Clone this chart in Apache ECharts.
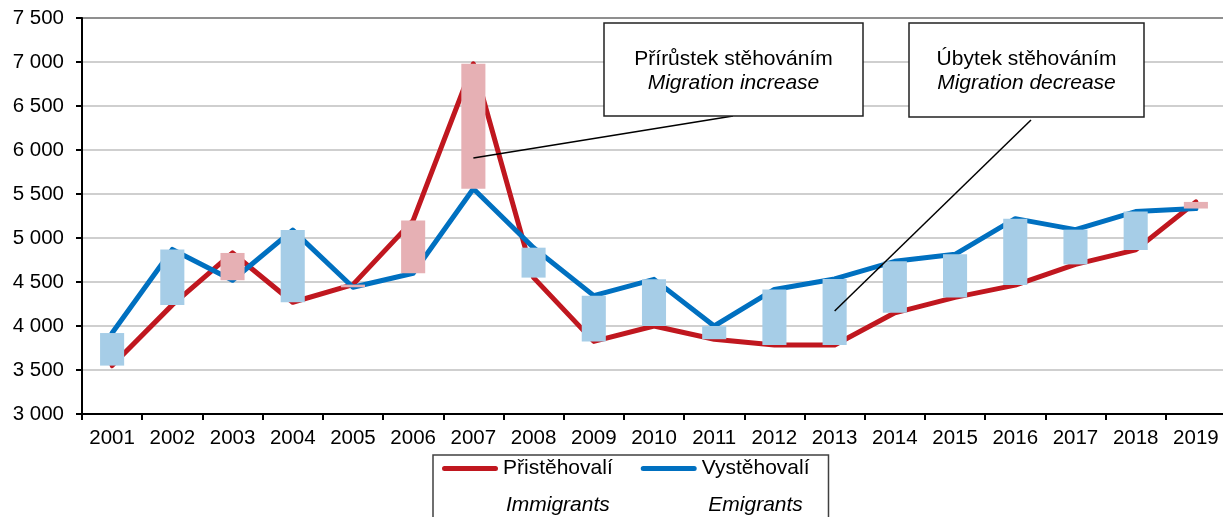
<!DOCTYPE html>
<html>
<head>
<meta charset="utf-8">
<script src="https://cdn.jsdelivr.net/npm/echarts@6/dist/echarts.min.js"></script>
<style>
  html, body { margin: 0; padding: 0; background: #fff; }
  #chart { width: 1223px; height: 517px; }
</style>
</head>
<body>
<div id="chart"></div>
<script>
  // roky
  const years = ['2001','2002','2003','2004','2005','2006','2007','2008','2009','2010',
                 '2011','2012','2013','2014','2015','2016','2017','2018','2019'];
  // přistěhovalí / immigrants
  const immigrants = [3550, 4240, 4830, 4270, 4470, 5200, 6980, 4550, 3825, 4000,
                      3850, 3785, 3785, 4150, 4325, 4465, 4700, 4865, 5410];
  // vystěhovalí / emigrants
  const emigrants  = [3920, 4870, 4520, 5090, 4440, 4600, 5560, 4890, 4345, 4530,
                      4000, 4415, 4535, 4735, 4815, 5220, 5095, 5300, 5335];
  const yTicks = { min: 3000, max: 7500, step: 500 };
  // kam míří popisky (rok, hodnota)
  const notePoints = [['2007', 5910], ['2013', 4170]];

  const FONT = 'Liberation Sans';
  const RED = '#C0171F', BLUE = '#0070C0';
  const PINK = '#E6B0B4', LIGHTBLUE = '#A6CDE7';

  const fmt = v => String(v).replace(/\B(?=(\d{3})+(?!\d))/g, ' ');
  const english = { 'Přistěhovalí': 'Immigrants', 'Vystěhovalí': 'Emigrants' };

  let chart = echarts.init(document.getElementById('chart'));
  let option = {
    animation: false,
    textStyle: { fontFamily: FONT },
    grid: {
      left: 82, top: 18, width: 1144, height: 396,
      outerBoundsMode: 'none', containLabel: false,
      show: true, borderColor: '#000', borderWidth: 2
    },
    legend: {
      data: ['Přistěhovalí', 'Vystěhovalí'],
      left: 433, top: 455,
      padding: [3, 19, 10, 9],
      itemGap: 28,
      itemWidth: 56, itemHeight: 53,
      icon: 'path://M2.5,0H53.5A2.5,2.5,0,0,1,53.5,5H2.5A2.5,2.5,0,0,1,2.5,0Z M0,52.9H0.1V53H0Z',
      borderColor: '#404040', borderWidth: 1.5,
      selectedMode: false,
      formatter: name => '{a|' + name + '}\n{b|' + english[name] + '}',
      textStyle: {
        fontFamily: FONT, fontSize: 21, color: '#000',
        rich: {
          a: { fontFamily: FONT, fontSize: 21, color: '#000', lineHeight: 26, align: 'center' },
          b: { fontFamily: FONT, fontSize: 21, color: '#000', fontStyle: 'italic', lineHeight: 48, align: 'center' }
        }
      }
    },
    xAxis: {
      type: 'category',
      data: years,
      axisLine: { lineStyle: { color: '#000', width: 2 } },
      axisTick: { show: true, length: 6, lineStyle: { color: '#000', width: 2 } },
      axisLabel: { fontFamily: FONT, fontSize: 20.5, color: '#000', margin: 14, interval: 0 },
      splitLine: { show: false }
    },
    yAxis: {
      type: 'value',
      min: yTicks.min, max: yTicks.max, interval: yTicks.step,
      axisLine: { show: true, lineStyle: { color: '#000', width: 2 } },
      axisTick: { show: true, length: 6, lineStyle: { color: '#000', width: 2 } },
      axisLabel: { fontFamily: FONT, fontSize: 20.5, color: '#000', margin: 18, formatter: fmt },
      splitLine: { lineStyle: { color: '#BFBFBF', width: 1.5 } }
    },
    series: [
      {
        name: 'Přistěhovalí', type: 'line', data: immigrants,
        symbol: 'none', z: 2,
        itemStyle: { color: RED },
        lineStyle: { color: RED, width: 5, cap: 'round', join: 'round' }
      },
      {
        name: 'Vystěhovalí', type: 'line', data: emigrants,
        symbol: 'none', z: 2,
        itemStyle: { color: BLUE },
        lineStyle: { color: BLUE, width: 5, cap: 'round', join: 'round' }
      },
      {
        // sloupky rozdílu (přírůstek / úbytek)
        name: 'saldo', type: 'custom', z: 3,
        data: years.map((y, i) => [i, immigrants[i], emigrants[i]]),
        encode: { x: 0, y: [1, 2] },
        renderItem: function (params, api) {
          let a = api.coord([api.value(0), api.value(1)]);
          let b = api.coord([api.value(0), api.value(2)]);
          let w = api.size([1, 0])[0] * 0.4;
          return {
            type: 'rect',
            shape: { x: a[0] - w / 2, y: Math.min(a[1], b[1]), width: w, height: Math.max(Math.abs(a[1] - b[1]), 1) },
            style: { fill: api.value(1) > api.value(2) ? PINK : LIGHTBLUE }
          };
        }
      }
    ]
  };
  chart.setOption(option);

  // popisky s odkazovými čarami
  const notes = [
    { box: [604, 23, 259, 93], lines: ['Přírůstek stěhováním', 'Migration increase'], from: [733, 116] },
    { box: [909, 23, 235, 94], lines: ['Úbytek stěhováním', 'Migration decrease'], from: [1031, 120] }
  ];
  let graphics = [];
  notes.forEach((n, k) => {
    let p = chart.convertToPixel({ seriesIndex: 0 }, notePoints[k]);
    graphics.push({
      type: 'line', z: 50,
      shape: { x1: n.from[0], y1: n.from[1], x2: p[0], y2: p[1] },
      style: { stroke: '#000', lineWidth: 1.5 }
    });
    graphics.push({
      type: 'rect', z: 50,
      shape: { x: n.box[0], y: n.box[1], width: n.box[2], height: n.box[3] },
      style: { fill: '#fff', stroke: '#222', lineWidth: 1.5 }
    });
    graphics.push({
      type: 'text', z: 51,
      x: n.box[0] + n.box[2] / 2, y: n.box[1] + 36,
      style: { text: n.lines[0], font: '21px "Liberation Sans"', fill: '#000', align: 'center', verticalAlign: 'middle' }
    });
    graphics.push({
      type: 'text', z: 51,
      x: n.box[0] + n.box[2] / 2, y: n.box[1] + 60,
      style: { text: n.lines[1], font: 'italic 21px "Liberation Sans"', fill: '#000', align: 'center', verticalAlign: 'middle' }
    });
  });
  chart.setOption({ graphic: graphics });
  window.onresize = chart.resize;
</script>
</body>
</html>
